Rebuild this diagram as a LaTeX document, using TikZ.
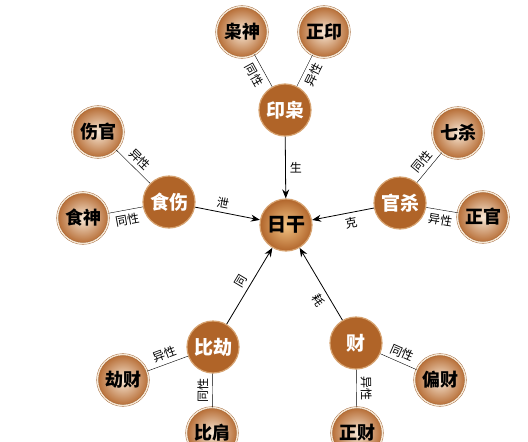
\documentclass[tikz,border=0pt]{standalone}
\usepackage{fontspec}
\newfontfamily\cjk{Noto Sans CJK SC}
\usetikzlibrary{arrows.meta}

\definecolor{corebrown}{RGB}{176,100,40}
\definecolor{corering}{RGB}{214,162,112}
\definecolor{shadelight}{RGB}{248,232,214}
\definecolor{shadedark}{RGB}{182,108,52}
\definecolor{ringbrown}{RGB}{160,100,52}
\definecolor{ringlight}{RGB}{246,232,214}
\definecolor{sunlight}{RGB}{242,196,132}
\definecolor{sundark}{RGB}{178,102,44}

\begin{document}
\begin{tikzpicture}[x=1pt,y=-1pt,
		leaf/.style={circle, minimum size=51pt, inner sep=0pt, draw=ringbrown, double=ringlight, double distance=1.4pt, inner color=shadelight, outer color=shadedark, font=\cjk\bfseries\fontsize{18}{18}\selectfont},
		hub/.style={circle, minimum size=52pt, inner sep=0pt, fill=corebrown, draw=corering, line width=1.2pt, text=white, font=\cjk\bfseries\fontsize{19}{19}\selectfont},
		sun/.style={circle, minimum size=52pt, inner sep=0pt, draw=corering, line width=1.2pt, inner color=sunlight, outer color=sundark, font=\cjk\bfseries\fontsize{19}{19}\selectfont},
		lab/.style={font=\cjk\fontsize{12}{12}\selectfont, sloped, inner sep=4pt},
		tip/.style={-{Stealth[length=9pt,width=7pt]}, thick}]
	\useasboundingbox (0,0) rectangle (528,442);
	\fill[white] (0,0) rectangle (528,442);
	
	% center
	\node[sun] (rg) at (286,225) {日干};
	
	% the five groups
	\foreach \name/\x/\y/\txt in {yx/285/110/印枭, ss/169/202/食伤, gs/400/203/官杀, bj/213/347/比劫, c/356/343/财}{
		\node[hub] (\name) at (\x,\y) {\txt};
	}
	\foreach \name/\x/\y/\txt in {xs/242/32/枭神, zy/324/32/正印, sg/98/132/伤官, shs/83/218/食神, qs/458/133/七杀, zg/483/217/正官, jc/123/380/劫财, bjian/212/433/比肩, pc/440/380/偏财, zc/357/433/正财}{
		\node[leaf] (\name) at (\x,\y) {\txt};
	}
	
	% links to the groups
	\draw (xs) -- node[lab, below]{同性} (yx);
	\draw (yx) -- node[lab, below]{异性} (zy);
	\draw (sg) -- node[lab, above]{异性} (ss);
	\draw (shs) -- node[lab, below]{同性} (ss);
	\draw (gs) -- node[lab, above]{同性} (qs);
	\draw (gs) -- node[lab, below]{异性} (zg);
	\draw (jc) -- node[lab, above]{异性} (bj);
	\draw (bj) -- node[lab, above]{同性} (bjian);
	\draw (c) -- node[lab, above]{同性} (pc);
	\draw (zc) -- node[lab, above]{异性} (c);
	
	% arrows to the center
	\draw[tip] (yx) -- node[font=\cjk\fontsize{12}{12}\selectfont, right, inner sep=4pt]{生} (rg);
	\draw[tip] (ss) -- node[lab, above, pos=0.4]{泄} (rg);
	\draw[tip] (gs) -- node[lab, below, pos=0.4]{克} (rg);
	\draw[tip] (bj) -- node[lab, above]{同} (rg);
	\draw[tip] (c) -- node[lab, below, pos=0.35]{耗} (rg);
\end{tikzpicture}
\end{document}
